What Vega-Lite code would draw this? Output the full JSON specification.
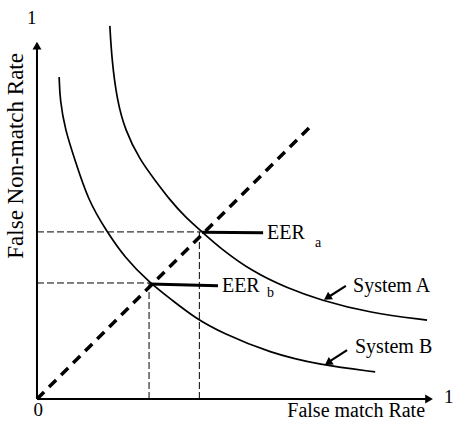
{
  "$schema": "https://vega.github.io/schema/vega-lite/v6.json",
  "width": 453,
  "height": 421,
  "autosize": "none",
  "padding": 0,
  "background": "white",
  "config": {"view": {"stroke": null}},
  "datasets": {
    "curves": [
      {"s": "A", "o": 1, "x": 0.184, "y": 1.045},
      {"s": "A", "o": 2, "x": 0.189, "y": 0.950},
      {"s": "A", "o": 3, "x": 0.202, "y": 0.838},
      {"s": "A", "o": 4, "x": 0.222, "y": 0.754},
      {"s": "A", "o": 5, "x": 0.260, "y": 0.669},
      {"s": "A", "o": 6, "x": 0.298, "y": 0.613},
      {"s": "A", "o": 7, "x": 0.336, "y": 0.557},
      {"s": "A", "o": 8, "x": 0.374, "y": 0.510},
      {"s": "A", "o": 9, "x": 0.417, "y": 0.468},
      {"s": "A", "o": 10, "x": 0.462, "y": 0.423},
      {"s": "A", "o": 11, "x": 0.545, "y": 0.356},
      {"s": "A", "o": 12, "x": 0.631, "y": 0.311},
      {"s": "A", "o": 13, "x": 0.715, "y": 0.277},
      {"s": "A", "o": 14, "x": 0.841, "y": 0.241},
      {"s": "A", "o": 15, "x": 0.985, "y": 0.221},
      {"s": "B", "o": 1, "x": 0.056, "y": 0.902},
      {"s": "B", "o": 2, "x": 0.058, "y": 0.838},
      {"s": "B", "o": 3, "x": 0.071, "y": 0.754},
      {"s": "B", "o": 4, "x": 0.096, "y": 0.669},
      {"s": "B", "o": 5, "x": 0.129, "y": 0.557},
      {"s": "B", "o": 6, "x": 0.174, "y": 0.473},
      {"s": "B", "o": 7, "x": 0.222, "y": 0.395},
      {"s": "B", "o": 8, "x": 0.285, "y": 0.325},
      {"s": "B", "o": 9, "x": 0.341, "y": 0.277},
      {"s": "B", "o": 10, "x": 0.399, "y": 0.227},
      {"s": "B", "o": 11, "x": 0.467, "y": 0.185},
      {"s": "B", "o": 12, "x": 0.588, "y": 0.129},
      {"s": "B", "o": 13, "x": 0.715, "y": 0.095},
      {"s": "B", "o": 14, "x": 0.854, "y": 0.076}
    ],
    "diag": [{"x": 0, "y": 0}, {"x": 0.692, "y": 0.765}],
    "guides": [
      {"x": 0, "y": 0.468, "x2": 0.415, "y2": 0.468},
      {"x": 0.41, "y": 0, "x2": 0.41, "y2": 0.468},
      {"x": 0, "y": 0.325, "x2": 0.285, "y2": 0.325},
      {"x": 0.283, "y": 0, "x2": 0.283, "y2": 0.325}
    ],
    "leaders": [
      {"x": 0.417, "y": 0.467, "x2": 0.571, "y2": 0.466},
      {"x": 0.285, "y": 0.322, "x2": 0.457, "y2": 0.317}
    ],
    "arrows": [
      {"x": 0.780, "y": 0.317, "x2": 0.735, "y2": 0.285},
      {"x": 0.783, "y": 0.137, "x2": 0.737, "y2": 0.104}
    ],
    "heads": [
      {"x": 0.733, "y": 0.284, "a": 237},
      {"x": 0.735, "y": 0.101, "a": 236},
      {"x": 0, "y": 0.99, "a": 0},
      {"x": 0.99, "y": 0, "a": 90}
    ],
    "axes": [
      {"x": 0, "y": 0, "x2": 0, "y2": 0.985},
      {"x": 0, "y": 0, "x2": 0.985, "y2": 0}
    ],
    "textsLeft": [
      {"t": "EER", "x": 0.581, "y": 0.465, "s": 20},
      {"t": "a", "x": 0.702, "y": 0.437, "s": 14},
      {"t": "EER", "x": 0.467, "y": 0.317, "s": 20},
      {"t": "b", "x": 0.581, "y": 0.297, "s": 14},
      {"t": "System A", "x": 0.798, "y": 0.317, "s": 20},
      {"t": "System B", "x": 0.803, "y": 0.146, "s": 20}
    ],
    "textsCenter": [
      {"t": "1", "x": -0.013, "y": 1.067, "s": 19, "a": 0},
      {"t": "1", "x": 1.040, "y": 0.006, "s": 19, "a": 0},
      {"t": "0", "x": 0.003, "y": -0.031, "s": 19, "a": 0},
      {"t": "False match Rate", "x": 0.806, "y": -0.034, "s": 20, "a": 0},
      {"t": "False Non-match Rate", "x": -0.053, "y": 0.681, "s": 23, "a": 270}
    ]
  },
  "layer": [
    {
      "data": {"name": "guides"},
      "mark": {"type": "rule", "color": "black", "strokeWidth": 1, "strokeDash": [7, 3]},
      "encoding": {
        "x": {"field": "x", "type": "quantitative", "axis": null, "scale": {"domain": [-0.0934, 1.0505], "nice": false, "zero": false}},
        "y": {"field": "y", "type": "quantitative", "axis": null, "scale": {"domain": [-0.0616, 1.1176], "nice": false, "zero": false}},
        "x2": {"field": "x2"},
        "y2": {"field": "y2"}
      }
    },
    {
      "data": {"name": "diag"},
      "mark": {"type": "line", "color": "black", "strokeWidth": 3.5, "strokeDash": [10, 7]},
      "encoding": {
        "x": {"field": "x", "type": "quantitative", "axis": null, "scale": {"domain": [-0.0934, 1.0505], "nice": false, "zero": false}},
        "y": {"field": "y", "type": "quantitative", "axis": null, "scale": {"domain": [-0.0616, 1.1176], "nice": false, "zero": false}}
      }
    },
    {
      "data": {"name": "curves"},
      "mark": {"type": "line", "color": "black", "strokeWidth": 1.7, "interpolate": "basis"},
      "encoding": {
        "x": {"field": "x", "type": "quantitative", "axis": null, "scale": {"domain": [-0.0934, 1.0505], "nice": false, "zero": false}},
        "y": {"field": "y", "type": "quantitative", "axis": null, "scale": {"domain": [-0.0616, 1.1176], "nice": false, "zero": false}},
        "detail": {"field": "s"},
        "order": {"field": "o"}
      }
    },
    {
      "data": {"name": "axes"},
      "mark": {"type": "rule", "color": "black", "strokeWidth": 2},
      "encoding": {
        "x": {"field": "x", "type": "quantitative", "axis": null, "scale": {"domain": [-0.0934, 1.0505], "nice": false, "zero": false}},
        "y": {"field": "y", "type": "quantitative", "axis": null, "scale": {"domain": [-0.0616, 1.1176], "nice": false, "zero": false}},
        "x2": {"field": "x2"},
        "y2": {"field": "y2"}
      }
    },
    {
      "data": {"name": "leaders"},
      "mark": {"type": "rule", "color": "black", "strokeWidth": 3},
      "encoding": {
        "x": {"field": "x", "type": "quantitative", "axis": null, "scale": {"domain": [-0.0934, 1.0505], "nice": false, "zero": false}},
        "y": {"field": "y", "type": "quantitative", "axis": null, "scale": {"domain": [-0.0616, 1.1176], "nice": false, "zero": false}},
        "x2": {"field": "x2"},
        "y2": {"field": "y2"}
      }
    },
    {
      "data": {"name": "arrows"},
      "mark": {"type": "rule", "color": "black", "strokeWidth": 2.2},
      "encoding": {
        "x": {"field": "x", "type": "quantitative", "axis": null, "scale": {"domain": [-0.0934, 1.0505], "nice": false, "zero": false}},
        "y": {"field": "y", "type": "quantitative", "axis": null, "scale": {"domain": [-0.0616, 1.1176], "nice": false, "zero": false}},
        "x2": {"field": "x2"},
        "y2": {"field": "y2"}
      }
    },
    {
      "data": {"name": "heads"},
      "mark": {"type": "point", "shape": "triangle-up", "filled": true, "color": "black", "size": 80, "opacity": 1},
      "encoding": {
        "x": {"field": "x", "type": "quantitative", "axis": null, "scale": {"domain": [-0.0934, 1.0505], "nice": false, "zero": false}},
        "y": {"field": "y", "type": "quantitative", "axis": null, "scale": {"domain": [-0.0616, 1.1176], "nice": false, "zero": false}},
        "angle": {"field": "a", "type": "quantitative", "scale": null}
      }
    },
    {
      "data": {"name": "textsLeft"},
      "mark": {"type": "text", "align": "left", "baseline": "middle", "font": "Liberation Serif", "color": "black"},
      "encoding": {
        "x": {"field": "x", "type": "quantitative", "axis": null, "scale": {"domain": [-0.0934, 1.0505], "nice": false, "zero": false}},
        "y": {"field": "y", "type": "quantitative", "axis": null, "scale": {"domain": [-0.0616, 1.1176], "nice": false, "zero": false}},
        "text": {"field": "t"},
        "size": {"field": "s", "type": "quantitative", "scale": null}
      }
    },
    {
      "data": {"name": "textsCenter"},
      "mark": {"type": "text", "align": "center", "baseline": "middle", "font": "Liberation Serif", "color": "black"},
      "encoding": {
        "x": {"field": "x", "type": "quantitative", "axis": null, "scale": {"domain": [-0.0934, 1.0505], "nice": false, "zero": false}},
        "y": {"field": "y", "type": "quantitative", "axis": null, "scale": {"domain": [-0.0616, 1.1176], "nice": false, "zero": false}},
        "text": {"field": "t"},
        "size": {"field": "s", "type": "quantitative", "scale": null},
        "angle": {"field": "a", "type": "quantitative", "scale": null}
      }
    }
  ]
}
